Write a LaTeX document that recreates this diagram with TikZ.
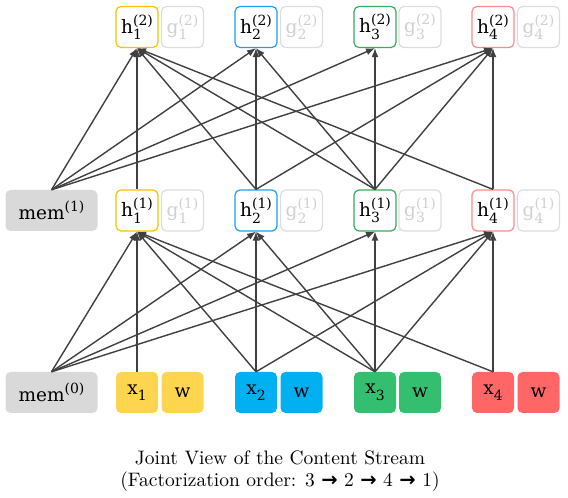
\documentclass[tikz,border=0pt]{standalone}
\usepackage{fontspec}
\usetikzlibrary{arrows.meta}
\newfontfamily\nodefont{DejaVu Serif}
\newfontfamily\arrowfont{DejaVu Sans}
\newfontfamily\capfont{lmroman10-regular}[Extension=.otf]
\definecolor{yfill}{HTML}{FFD54F}
\definecolor{bfill}{HTML}{00B0F0}
\definecolor{gfill}{HTML}{33BF6F}
\definecolor{rfill}{HTML}{FF6666}
\definecolor{yline}{HTML}{FFC000}
\definecolor{bline}{HTML}{1E9FEF}
\definecolor{gline}{HTML}{3AAA5C}
\definecolor{rline}{HTML}{FF8A8A}
\definecolor{memfill}{HTML}{D9D9D9}
\definecolor{gborder}{HTML}{DDDDDD}
\definecolor{gtext}{HTML}{D0D0D0}
\definecolor{arr}{HTML}{404040}
\newcommand\scr{\fontsize{14}{14}\selectfont}
\newcommand\hsym[3]{#1\rlap{\raisebox{-6.5pt}{\scr #2}}\raisebox{8pt}{\scr(#3)}}
\newcommand\xsym[2]{#1\raisebox{-6.5pt}{\scr #2}}
\newcommand\memsym[1]{mem\raisebox{8pt}{\scr(#1)}}
\newcommand\rarr{{\arrowfont\bfseries →}}
\begin{document}
\begin{tikzpicture}[x=1pt,y=1pt,
  cell/.style={rounded corners=5pt, minimum width=42pt, minimum height=41pt, inner sep=0pt,
    font=\nodefont\fontsize{18.5}{18.5}\selectfont, text=black},
  hcell/.style={cell, draw=#1, fill=white, line width=1.2pt},
  gcell/.style={cell, draw=gborder, fill=white, line width=1.2pt, text=gtext},
  xcell/.style={cell, fill=#1},
  memcell/.style={cell, fill=memfill, minimum width=92pt},
  link/.style={draw=arr, line width=1.4pt, -{Latex[length=9pt,width=7pt]}},
  captext/.style={font=\capfont\fontsize{19.5}{22}\selectfont, anchor=base, inner sep=0pt}
]
\useasboundingbox (0,0) rectangle (568,498);
% top layer
\node[hcell=yline] (h21) at (137,471) {\hsym{h}{1}{2}};
\node[gcell] (g21) at (182.5,471) {\hsym{g}{1}{2}};
\node[hcell=bline] (h22) at (256,471) {\hsym{h}{2}{2}};
\node[gcell] (g22) at (301.5,471) {\hsym{g}{2}{2}};
\node[hcell=gline] (h23) at (375,471) {\hsym{h}{3}{2}};
\node[gcell] (g23) at (420,471) {\hsym{g}{3}{2}};
\node[hcell=rline] (h24) at (493,471) {\hsym{h}{4}{2}};
\node[gcell] (g24) at (538.5,471) {\hsym{g}{4}{2}};
% middle layer
\node[memcell] (mem1) at (51.5,287.5) {\memsym{1}};
\node[hcell=yline] (h11) at (137,287.5) {\hsym{h}{1}{1}};
\node[gcell] (g11) at (182.5,287.5) {\hsym{g}{1}{1}};
\node[hcell=bline] (h12) at (256,287.5) {\hsym{h}{2}{1}};
\node[gcell] (g12) at (301.5,287.5) {\hsym{g}{2}{1}};
\node[hcell=gline] (h13) at (375,287.5) {\hsym{h}{3}{1}};
\node[gcell] (g13) at (420,287.5) {\hsym{g}{3}{1}};
\node[hcell=rline] (h14) at (493,287.5) {\hsym{h}{4}{1}};
\node[gcell] (g14) at (538.5,287.5) {\hsym{g}{4}{1}};
% bottom layer
\node[memcell] (mem0) at (51.5,105.5) {\memsym{0}};
\node[xcell=yfill] (x1) at (137,105.5) {\xsym{x}{1}};
\node[xcell=yfill] (w1) at (182.5,105.5) {w};
\node[xcell=bfill] (x2) at (256,105.5) {\xsym{x}{2}};
\node[xcell=bfill] (w2) at (301.5,105.5) {w};
\node[xcell=gfill] (x3) at (375,105.5) {\xsym{x}{3}};
\node[xcell=gfill] (w3) at (420,105.5) {w};
\node[xcell=rfill] (x4) at (493,105.5) {\xsym{x}{4}};
\node[xcell=rfill] (w4) at (538.5,105.5) {w};
% connectors bottom -> middle
\foreach \t in {h11,h12,h13,h14} \draw[link] (mem0.north) -- (\t.south);
\draw[link] (x1.north) -- (h11.south);
\foreach \t in {h11,h12,h14} \draw[link] (x2.north) -- (\t.south);
\foreach \t in {h11,h12,h13,h14} \draw[link] (x3.north) -- (\t.south);
\foreach \t in {h11,h14} \draw[link] (x4.north) -- (\t.south);
% connectors middle -> top
\foreach \t in {h21,h22,h23,h24} \draw[link] (mem1.north) -- (\t.south);
\draw[link] (h11.north) -- (h21.south);
\foreach \t in {h21,h22,h24} \draw[link] (h12.north) -- (\t.south);
\foreach \t in {h21,h22,h23,h24} \draw[link] (h13.north) -- (\t.south);
\foreach \t in {h21,h24} \draw[link] (h14.north) -- (\t.south);
% caption
\node[captext] (cap1) at (280,33) {Joint View of the Content Stream};
\node[captext] (cap2) at (280,11) {(Factorization order: 3 \rarr{} 2 \rarr{} 4 \rarr{} 1)};
\end{tikzpicture}
\end{document}
